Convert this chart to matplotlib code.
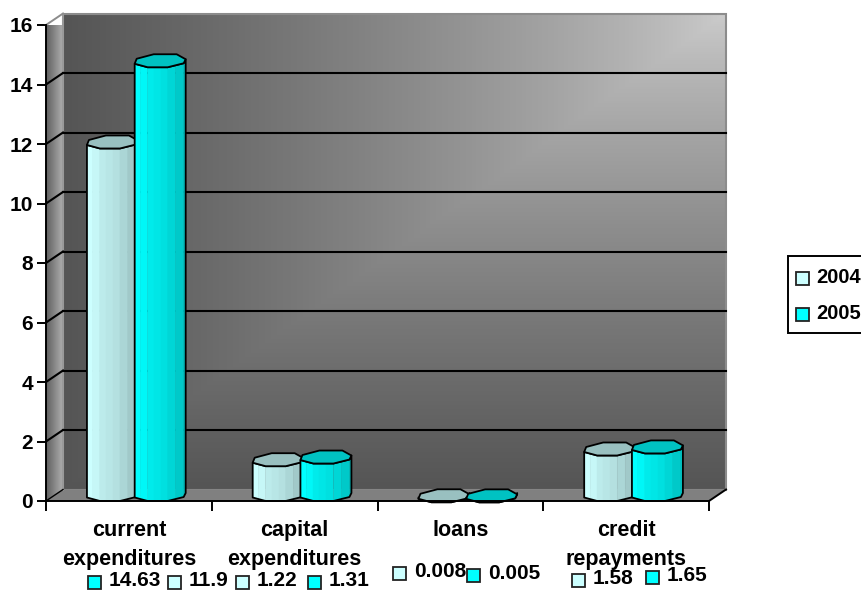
import numpy as np
import matplotlib
matplotlib.use("Agg")
import matplotlib.pyplot as plt
from matplotlib.patches import Polygon, Rectangle
from matplotlib.lines import Line2D

plt.rcParams['font.family'] = ['Liberation Sans', 'DejaVu Sans']
plt.rcParams['font.weight'] = 'bold'

categories = ["current\nexpenditures", "capital\nexpenditures", "loans", "credit\nrepayments"]
years = ["2004", "2005"]
values_2004 = [11.9, 1.22, 0.008, 1.58]
values_2005 = [14.63, 1.31, 0.005, 1.65]
label_2004 = ["11.9", "1.22", "0.008", "1.58"]
label_2005 = ["14.63", "1.31", "0.005", "1.65"]
yticks = [0, 2, 4, 6, 8, 10, 12, 14, 16]

W, H = 861, 591
fig = plt.figure(figsize=(W / 100, H / 100), dpi=100)
L, R, B, T = 46, 709, 501, 25
ax = fig.add_axes([L / W, 1 - B / H, (R - L) / W, (B - T) / H])
ax.set_xlim(0, 4)
ax.set_ylim(0, 16)
for s in ['top', 'right']:
    ax.spines[s].set_visible(False)
for s in ['left', 'bottom']:
    ax.spines[s].set_linewidth(1.4)
    ax.spines[s].set_zorder(20)
ax.patch.set_visible(False)
PX = 4 / (R - L)
PY = 16 / (B - T)
DX, DY = 17 * PX, 11.5 * PY


def gray_wall():
    ny, nx = 240, 330
    yy, xx = np.mgrid[0:1:ny * 1j, 0:1:nx * 1j]
    t = np.maximum(1 - xx, yy) ** 0.8
    v = 205 - 120 * t
    return np.dstack([v, v, v]).astype(np.uint8)


ax.imshow(gray_wall(), extent=[DX, 4 + DX, DY, 16 + DY], origin='upper', aspect='auto',
          zorder=1, clip_on=False)
ax.add_patch(Rectangle((DX, DY), 4, 16, fc='none', ec='#8c8c8c', lw=1.5, zorder=2, clip_on=False))

side = np.tile(np.linspace(95, 175, 64), (2, 1))
side = np.dstack([side, side, side]).astype(np.uint8)
im = ax.imshow(side, extent=[0, DX, 0, 16 + DY], origin='upper', aspect='auto', zorder=1, clip_on=True)
clip = Polygon([(0, 0), (DX, DY), (DX, 16 + DY), (0, 16)], transform=ax.transData)
im.set_clip_path(clip)
ax.add_patch(Polygon([(0, 0), (4, 0), (4 + DX, DY), (DX, DY)], fc='#808080', ec='none', zorder=2, clip_on=False))
ax.add_line(Line2D([DX, DX], [DY, 16 + DY], color='#9a9a9a', lw=1.4, zorder=3, clip_on=False))
ax.add_line(Line2D([0, DX], [16, 16 + DY], color='#8c8c8c', lw=1.4, zorder=3, clip_on=False))
ax.add_line(Line2D([4, 4 + DX], [0, DY], color='k', lw=1.4, zorder=3, clip_on=False))
ax.add_line(Line2D([0, DX], [0, DY], color='k', lw=1.0, zorder=3, clip_on=False))
for v in yticks[1:-1]:
    ax.add_line(Line2D([DX, 4 + DX], [v + DY, v + DY], color='k', lw=1.5, zorder=3, clip_on=False))
    ax.add_line(Line2D([0, DX], [v, v + DY], color='k', lw=1.5, zorder=3, clip_on=False))
ax.set_xlim(0, 4)
ax.set_ylim(0, 16)

# octagonal prism profile, in pixels
FRONT = np.array([(0, 3.5), (13, 0), (33, 0), (49, 4), (51, 8)], float)
BACK = np.array([(42, 13), (19, 13), (2, 8.5)], float)
BANDS = [0, 6, 13, 19, 26, 33, 41, 49, 51]
SHADE = [1.0, 0.97, 0.92, 0.90, 0.88, 0.84, 0.79, 0.74]
SINK = 1.5 * PY


def prism(x0, val, rgb, top_rgb, z):
    val = val - SINK
    prof = lambda xp: np.interp(xp, FRONT[:, 0], FRONT[:, 1])
    for i in range(len(BANDS) - 1):
        a, b = BANDS[i], BANDS[i + 1]
        xs = np.array([a, b, b, a], float)
        ups = np.array([prof(a), prof(b), prof(b), prof(a)])
        base = np.array([0, 0, val, val])
        c = tuple(np.array(rgb) * SHADE[i])
        ax.add_patch(Polygon(np.c_[x0 + xs * PX, base + ups * PY], fc=c, ec=c, lw=0.3, zorder=z, clip_on=False))
    bottom = np.c_[x0 + FRONT[:, 0] * PX, FRONT[:, 1] * PY]
    top = np.c_[x0 + FRONT[:, 0] * PX, val + FRONT[:, 1] * PY]
    ax.add_patch(Polygon(np.vstack([bottom, top[::-1]]), fc='none', ec='k', lw=1.3, zorder=z + .1,
                         clip_on=False, joinstyle='round'))
    oct_ = np.vstack([FRONT, BACK])
    ax.add_patch(Polygon(np.c_[x0 + oct_[:, 0] * PX, val + oct_[:, 1] * PY], fc=top_rgb, ec='k', lw=1.3,
                         zorder=z + .2, clip_on=False, joinstyle='round'))


C04, C05 = (0.80, 1.0, 1.0), (0.0, 1.0, 1.0)
T04, T05 = '#99c0c0', '#00c2c2'
for i, (a, b) in enumerate(zip(values_2004, values_2005)):
    prism(i + 0.247, a, C04, T04, 5 + i)
    prism(i + 0.535, b, C05, T05, 5.5 + i)

ax.set_yticks(yticks)
ax.set_xticks(range(5))
ax.set_xticklabels([])
ax.tick_params(axis='y', length=6.5, width=1.4, pad=3, labelsize=15)
ax.tick_params(axis='x', which='major', length=7, width=1.4)
ax.set_xticks(np.arange(4) + 0.5, minor=True)
ax.set_xticklabels(categories, minor=True, fontsize=15.5, fontweight='bold', linespacing=1.5)
ax.tick_params(axis='x', which='minor', length=0, pad=14)
for t in ax.get_xticklabels(minor=True):
    t.set_verticalalignment('top')

# overlay in pixel coordinates for the data labels and legend keys
ov = fig.add_axes([0, 0, 1, 1], zorder=30)
ov.set_xlim(0, W)
ov.set_ylim(H, 0)
ov.axis('off')
ov.patch.set_visible(False)

label_pos_2004 = [(168, 582), (236, 582), (393, 573), (572, 580)]
label_pos_2005 = [(88, 582), (308, 582), (467, 575), (646, 577)]
for txts, poss, col in ((label_2004, label_pos_2004, C04), (label_2005, label_pos_2005, C05)):
    for s, (x, y) in zip(txts, poss):
        ov.add_patch(Rectangle((x, y - 6.5), 12.5, 13, fc=col, ec='#222222', lw=1.3, clip_on=False))
        ov.text(x + 21, y - 1.5, s, fontsize=15, fontweight='bold', ha='left', va='center', color='k')

# legend, whose frame runs past the right edge of the canvas
ov.add_patch(Rectangle((787.5, 256), 120, 77, fc='white', ec='k', lw=1.4, clip_on=True))
for yr, col, y in zip(years, (C04, C05), (278, 314)):
    ov.add_patch(Rectangle((796, y - 6.5), 12.5, 13, fc=col, ec='#222222', lw=1.3))
    ov.text(816, y - 0.5, yr, fontsize=14.5, fontweight='bold', ha='left', va='center', color='k')

fig.savefig("out.png", dpi=100, facecolor='white')
